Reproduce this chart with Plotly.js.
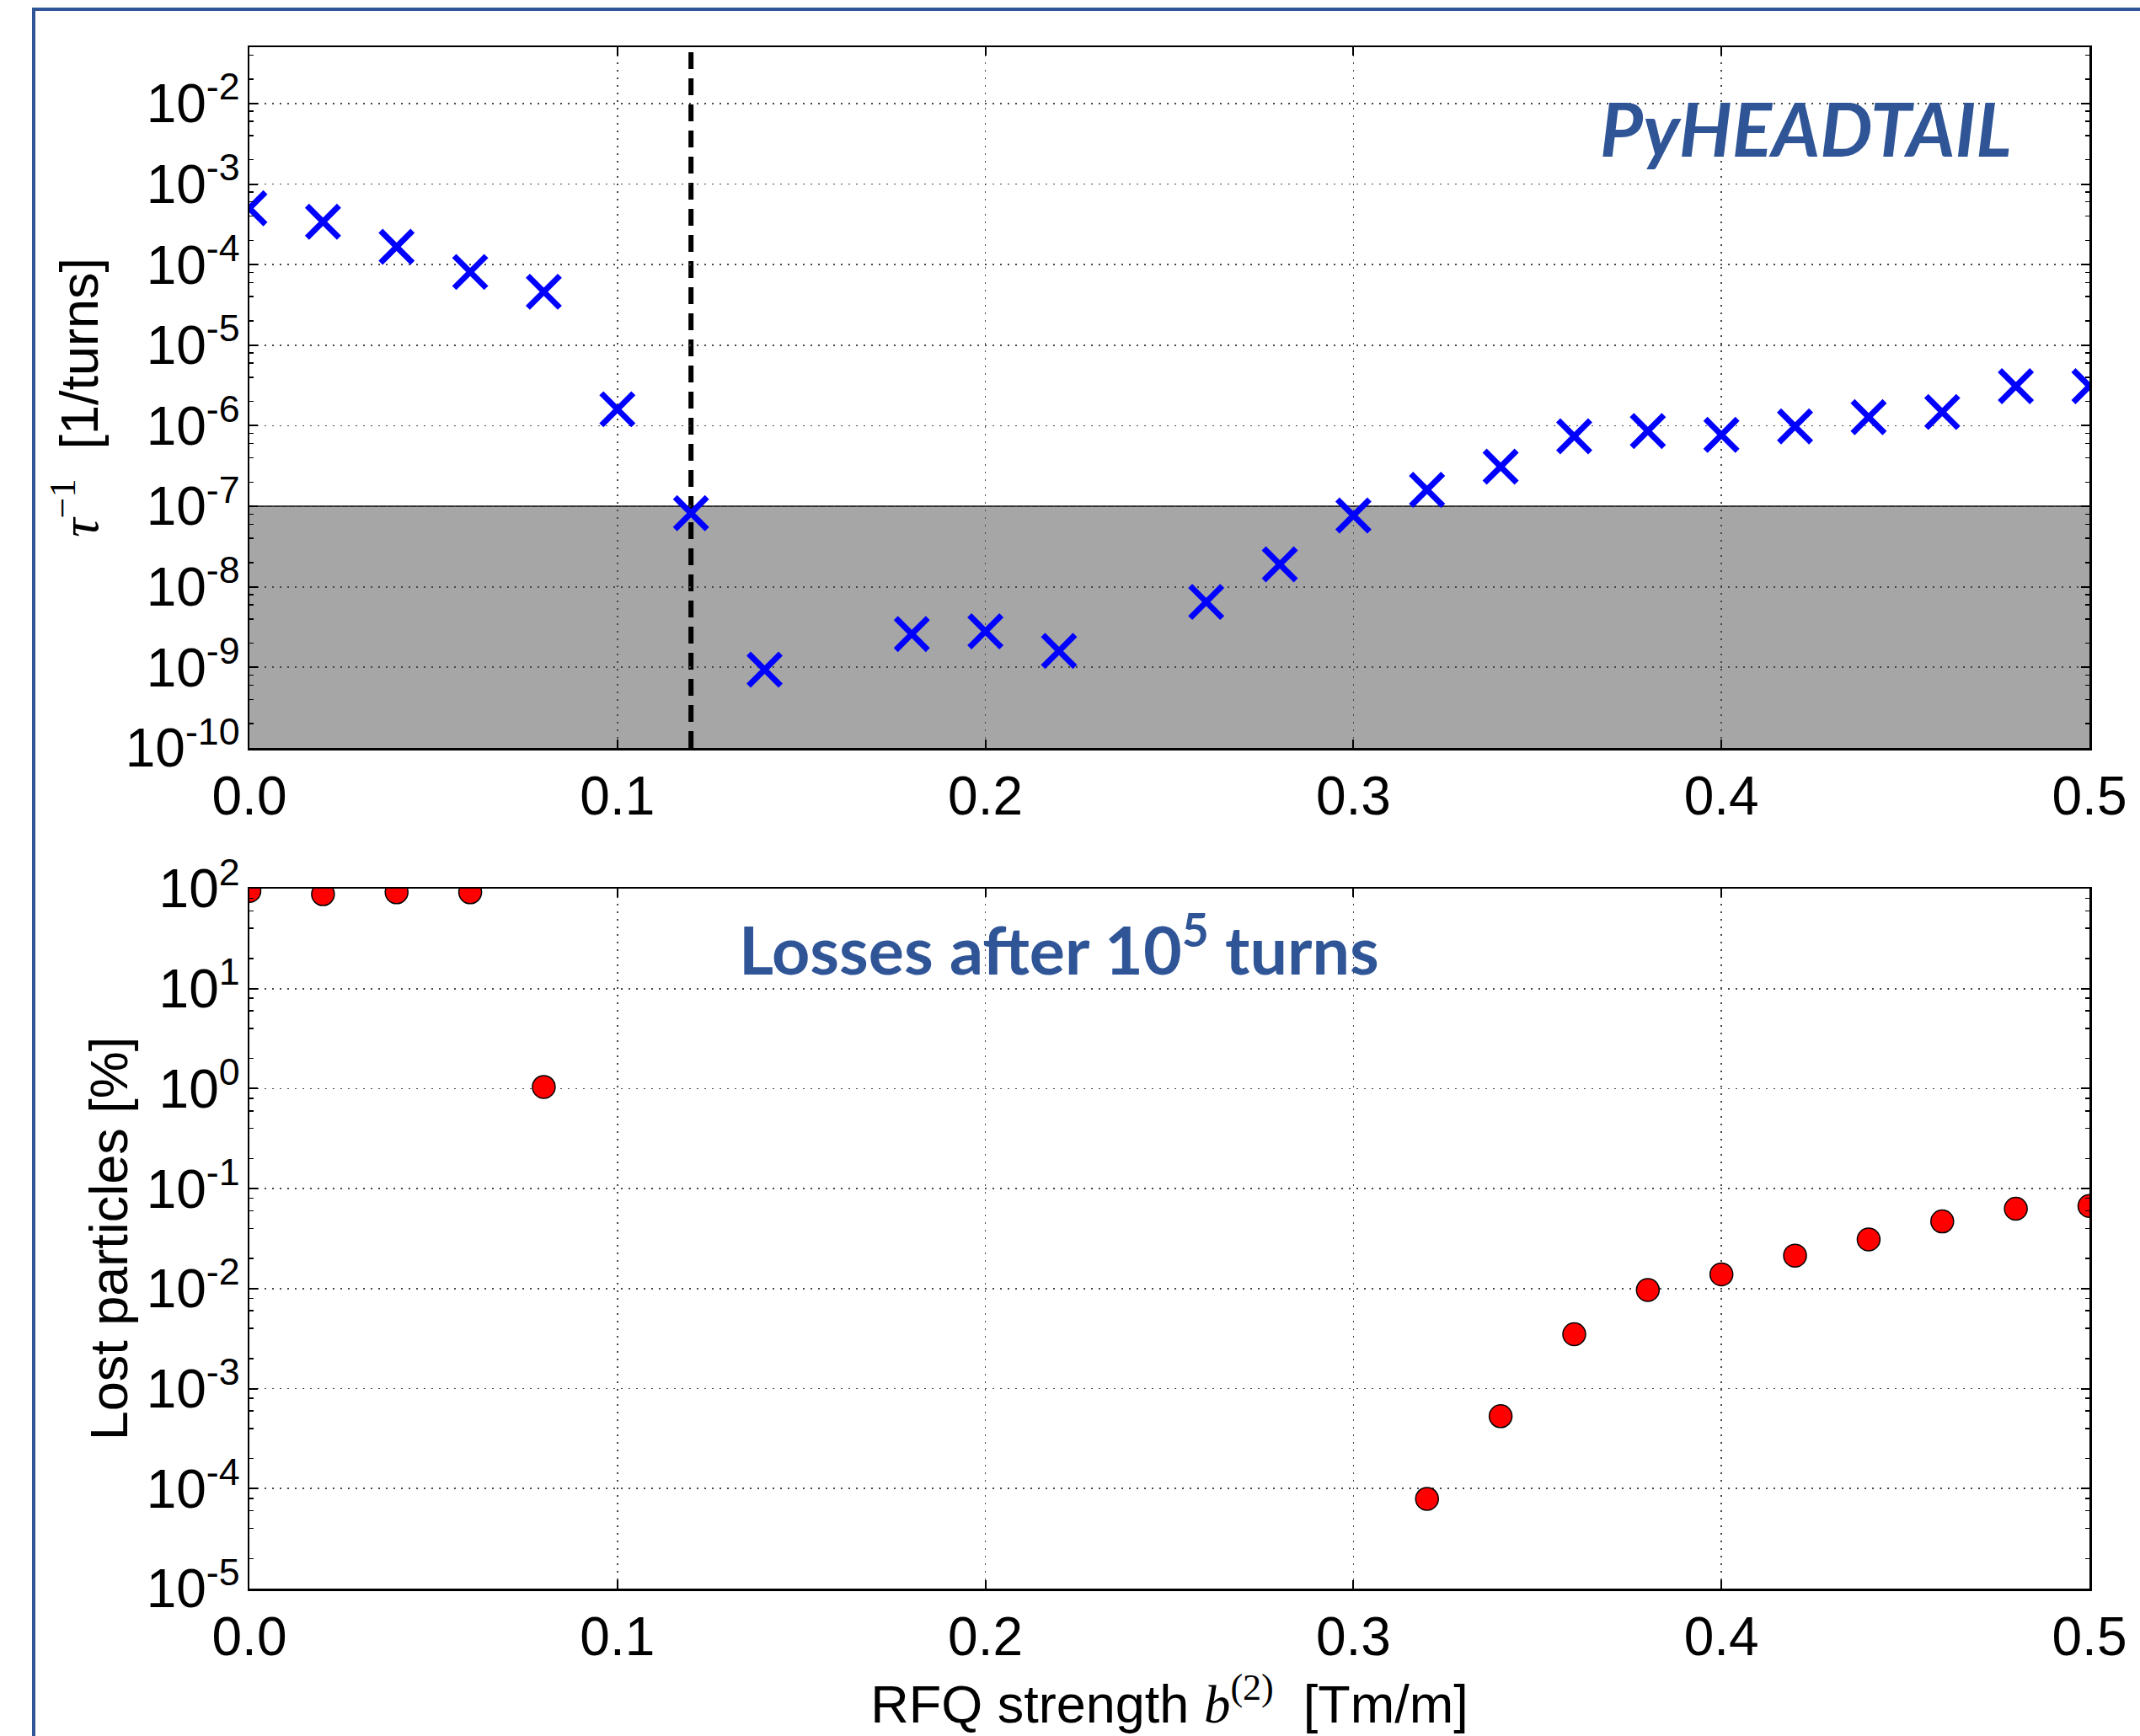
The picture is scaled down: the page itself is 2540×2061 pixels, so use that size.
<!DOCTYPE html>
<html>
<head>
<meta charset="utf-8">
<script src="https://cdn.plot.ly/plotly-3.0.1.min.js"></script>
<style>
  html, body { margin: 0; padding: 0; background: #ffffff; overflow: hidden; }
  #chart { position: absolute; left: 0; top: 0; width: 2540px; height: 2061px; }
  #frame {
    position: absolute; left: 38px; top: 9px; width: 2600px; height: 2200px;
    border-left: 4px solid #2f5597; border-top: 4px solid #2f5597;
    pointer-events: none;
  }
</style>
</head>
<body>
<div id="chart"></div>
<div id="frame"></div>
<script>
// RFQ strength scan: instability growth rate (top) and particle losses (bottom)

// growth-rate scan (PyHEADTAIL)
const b2Growth   = [0.00, 0.02, 0.04, 0.06, 0.08, 0.10, 0.12, 0.14, 0.18, 0.20, 0.22, 0.26,
                    0.28, 0.30, 0.32, 0.34, 0.36, 0.38, 0.40, 0.42, 0.44, 0.46, 0.48, 0.50];
const growthRate = [5.0e-4, 3.4e-4, 1.66e-4, 8.1e-5, 4.6e-5, 1.6e-6, 8.2e-8, 9.4e-10, 2.6e-9, 2.8e-9, 1.6e-9, 6.5e-9,
                    1.9e-8, 7.7e-8, 1.6e-7, 3.1e-7, 7.4e-7, 8.6e-7, 7.7e-7, 9.8e-7, 1.28e-6, 1.48e-6, 3.1e-6, 3.1e-6];

// losses after 1e5 turns
const b2Loss  = [0.00, 0.02, 0.04, 0.06, 0.08, 0.32, 0.34, 0.36, 0.38, 0.40, 0.42, 0.44, 0.46, 0.48, 0.50];
const lostPct = [95, 88, 92, 92, 1.04, 7.9e-5, 5.3e-4, 3.5e-3, 9.7e-3, 1.39e-2, 2.14e-2, 3.1e-2, 4.7e-2, 6.3e-2, 6.7e-2];

// stable region (growth rate below threshold) and stabilising RFQ strength
const stableBand     = [1e-10, 1e-7];
const stabilityLimit = [0.12];

// axis ticks
const xTicks      = [0.0, 0.1, 0.2, 0.3, 0.4, 0.5];
const xTickText   = ['0.0', '0.1', '0.2', '0.3', '0.4', '0.5'];
const growthExps  = [-10, -9, -8, -7, -6, -5, -4, -3, -2];
const lossExps    = [-5, -4, -3, -2, -1, 0, 1, 2];
const growthRange = [1e-10, 0.05];
const lossRange   = [1e-5, 100];

// ---- figure geometry ----
const W = 2540, H = 2061;
const M = { l: 296, r: 60, t: 56, b: 175 };
const plotW = W - M.l - M.r, plotH = H - M.t - M.b;
const px2x = p => (p - M.l) / plotW;
const py2y = p => (H - M.b - p) / plotH;

const FONT = 'Liberation Sans, Arial, Helvetica, sans-serif';
const SERIF = 'Liberation Serif, Times New Roman, serif';
const BLUE_TXT = '#2f5597';
const TICK_SIZE = 64;
const TITLE_SIZE = 63;

const pow10Text = e => '10<sup>' + String(e) + '</sup>';
const minorVals = exps => {
  const out = [];
  for (let i = exps[0] - 1; i <= exps[exps.length - 1]; i++) {
    [2, 4, 6, 8].forEach(k => out.push(k * Math.pow(10, i)));
  }
  return out;
};

const axisCommon = {
  showline: true, linewidth: 2.5, linecolor: '#000000', mirror: 'ticks',
  ticks: 'inside', ticklen: 10, tickwidth: 2, tickcolor: '#000000',
  showgrid: true, gridcolor: 'rgb(70,70,70)', gridwidth: 1.8, griddash: '2px,7px',
  zeroline: false,
  tickfont: { family: FONT, size: TICK_SIZE, color: '#000000' }
};

const xAxis = (anchor, title) => Object.assign({}, axisCommon, {
  anchor: anchor, range: [0, 0.5],
  tickmode: 'array', tickvals: xTicks, ticktext: xTickText,
  title: title
});

const yAxis = (exps, range, domain, anchor, title) => Object.assign({}, axisCommon, {
  type: 'log', domain: domain, anchor: anchor,
  range: [Math.log10(range[0]), Math.log10(range[1])],
  tickmode: 'array', tickvals: exps.map(e => Math.pow(10, e)), ticktext: exps.map(pow10Text),
  ticklabelstandoff: -4,
  minor: { tickmode: 'array', tickvals: minorVals(exps), ticks: 'inside', ticklen: 5,
           tickwidth: 1.5, tickcolor: '#000000', showgrid: false },
  title: title
});

const traces = [
  {
    x: b2Growth, y: growthRate, xaxis: 'x', yaxis: 'y',
    type: 'scatter', mode: 'markers', cliponaxis: true,
    marker: { symbol: 'x-thin', size: 38, color: '#0000ff',
              line: { color: '#0000ff', width: 7 } },
    showlegend: false
  },
  {
    x: b2Loss, y: lostPct, xaxis: 'x2', yaxis: 'y2',
    type: 'scatter', mode: 'markers', cliponaxis: true,
    marker: { symbol: 'circle', size: 27, color: '#ff0000',
              line: { color: '#000000', width: 1.5 } },
    showlegend: false
  }
];

const layout = {
  width: W, height: H,
  margin: M,
  paper_bgcolor: '#ffffff', plot_bgcolor: '#ffffff',
  font: { family: FONT, size: TICK_SIZE, color: '#000000' },
  showlegend: false,
  xaxis: xAxis('y', { text: '' }),
  yaxis: yAxis(growthExps, growthRange, [py2y(888), 1], 'x', {
    text: '<span style="font-family:' + SERIF + '"><i>τ</i><sup>−1</sup></span>  [1/turns]',
    font: { family: FONT, size: TITLE_SIZE, color: '#000000' }, standoff: 12
  }),
  xaxis2: xAxis('y2', {
    text: 'RFQ strength <span style="font-family:' + SERIF + '"><i>b</i><sup>(2)</sup></span>  [Tm/m]',
    font: { family: FONT, size: TITLE_SIZE, color: '#000000' }, standoff: 13
  }),
  yaxis2: yAxis(lossExps, lossRange, [0, py2y(1055)], 'x2', {
    text: 'Lost particles [%]',
    font: { family: FONT, size: TITLE_SIZE, color: '#000000' }, standoff: 2
  }),
  shapes: [
    {
      type: 'rect', layer: 'below', xref: 'x domain', yref: 'y',
      x0: 0, x1: 1, y0: stableBand[0], y1: stableBand[1],
      fillcolor: '#a6a6a6', line: { width: 0 }
    },
    {
      type: 'line', layer: 'below', xref: 'x domain', yref: 'y',
      x0: 0, x1: 1, y0: stableBand[1], y1: stableBand[1],
      line: { color: '#000000', width: 1.5 }
    },
    {
      type: 'line', layer: 'below', xref: 'x', yref: 'y domain',
      x0: stabilityLimit[0], x1: stabilityLimit[0], y0: 0, y1: 1,
      line: { color: '#000000', width: 6, dash: '20px,11px' }
    }
  ],
  annotations: [
    {
      xref: 'paper', yref: 'paper', x: px2x(2143), y: py2y(152),
      xanchor: 'center', yanchor: 'middle', showarrow: false,
      text: '<i>PyHEADTAIL</i>',
      font: { family: 'Lato, Open Sans, sans-serif', size: 88, color: BLUE_TXT, weight: 'bold' }
    },
    {
      xref: 'paper', yref: 'paper', x: px2x(1257), y: py2y(1122),
      xanchor: 'center', yanchor: 'middle', showarrow: false,
      text: 'Losses after 10<sup>5</sup> turns',
      font: { family: 'Lato, Open Sans, sans-serif', size: 79, color: BLUE_TXT, weight: 'bold' }
    }
  ]
};

Plotly.newPlot('chart', traces, layout, { staticPlot: true, displayModeBar: false });
</script>
</body>
</html>
